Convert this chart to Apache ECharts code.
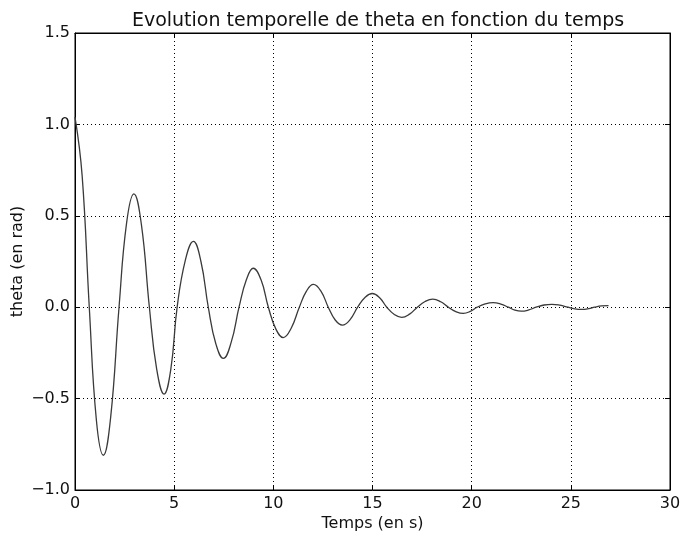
<!DOCTYPE html>
<html>
<head>
<meta charset="utf-8">
<script src="https://cdn.jsdelivr.net/npm/echarts@6/dist/echarts.min.js"></script>
<style>
html,body{margin:0;padding:0;background:#fff;}
#chart{width:684px;height:535px;}
</style>
</head>
<body>
<div id="chart"></div>
<script>
// Data
var temps = [0.00,0.36,0.72,1.08,1.43,1.80,2.22,2.60,2.97,3.35,3.75,4.12,4.49,4.83,5.15,5.57,5.97,6.35,6.72,7.10,7.48,7.88,8.27,8.64,8.99,9.38,9.75,10.13,10.50,10.90,11.31,11.67,12.02,12.40,12.77,13.12,13.48,13.87,14.25,14.62,14.99,15.36,15.72,16.10,16.47,16.87,17.26,17.65,18.04,18.44,18.83,19.20,19.58,19.93,20.28,20.68,21.08,21.47,21.85,22.18,22.50,22.88,23.25,23.65,24.05,24.45,24.85,25.20,25.55,25.90,26.20,26.55,26.90];
var theta = [1.04,0.72,0.00,-0.62,-0.81,-0.60,0.00,0.46,0.62,0.45,0.00,-0.34,-0.475,-0.34,0.00,0.26,0.36,0.25,0.00,-0.20,-0.28,-0.19,0.00,0.15,0.213,0.15,0.00,-0.12,-0.166,-0.115,0.00,0.088,0.125,0.088,0.00,-0.07,-0.098,-0.068,0.00,0.053,0.075,0.052,0.00,-0.04,-0.056,-0.038,0.00,0.031,0.044,0.030,0.00,-0.024,-0.034,-0.023,0.00,0.018,0.025,0.017,0.00,-0.016,-0.022,-0.015,0.00,0.012,0.016,0.011,0.00,-0.009,-0.012,-0.008,0.00,0.007,0.009];
var xTicks = [0,5,10,15,20,25,30];
var yTicks = [-1.0,-0.5,0.0,0.5,1.0,1.5];

var titleText = "Evolution temporelle de theta en fonction du temps";
var xLabel = "Temps (en s)";
var yLabel = "theta (en rad)";

var FONT = "DejaVu Sans";
var points = temps.map(function(t,i){return [t, theta[i]];});

function fmtY(v){
  var s = Math.abs(v).toFixed(1);
  return (v < 0 ? "\u2212" : "") + s;
}

var chart = echarts.init(document.getElementById('chart'), null, {renderer:'canvas'});
var tickStyle = {show:true, inside:true, length:5, lineStyle:{color:'#000', width:1}};
var gridLine = {show:true, lineStyle:{color:'#000', type:[1,3], width:1}};
var axisLine = {show:true, onZero:false, lineStyle:{color:'#000', width:1}};
chart.setOption({
  animation:false,
  backgroundColor:'#fff',
  title:{
    text:titleText, left:373, top:7, textAlign:'center',
    textStyle:{fontFamily:FONT, fontSize:19, fontWeight:'normal', color:'#111'}
  },
  grid:{left:75, right:14, top:33, bottom:45, outerBoundsMode:'none', containLabel:false,
        show:true, borderColor:'#000', borderWidth:1, backgroundColor:'transparent'},
  xAxis:[{
    type:'value', min:xTicks[0], max:xTicks[xTicks.length-1], interval:5,
    name:xLabel, nameLocation:'middle', nameGap:26, nameMoveOverlap:false,
    nameTextStyle:{fontFamily:FONT, fontSize:16, color:'#111'},
    axisLine:axisLine,
    axisTick:tickStyle,
    axisLabel:{fontFamily:FONT, fontSize:16, color:'#111', margin:6},
    splitLine:gridLine
  },{
    type:'value', position:'top', min:xTicks[0], max:xTicks[xTicks.length-1], interval:5,
    axisLine:axisLine,
    axisTick:tickStyle, axisLabel:{show:false}, splitLine:{show:false}
  }],
  yAxis:[{
    type:'value', min:yTicks[0], max:yTicks[yTicks.length-1], interval:0.5,
    name:yLabel, nameLocation:'middle', nameGap:49, nameRotate:90, nameMoveOverlap:false,
    nameTextStyle:{fontFamily:FONT, fontSize:16, color:'#111'},
    axisLine:axisLine,
    axisTick:tickStyle,
    axisLabel:{fontFamily:FONT, fontSize:16, color:'#111', margin:5, formatter:fmtY},
    splitLine:gridLine
  },{
    type:'value', position:'right', min:yTicks[0], max:yTicks[yTicks.length-1], interval:0.5,
    axisLine:axisLine,
    axisTick:tickStyle, axisLabel:{show:false}, splitLine:{show:false}
  }],
  series:[{
    type:'line', xAxisIndex:0, yAxisIndex:0,
    data:points, smooth:0.45, showSymbol:false, symbol:'none',
    lineStyle:{color:'#3a3a3a', width:1.3}
  }]
});
</script>
</body>
</html>
